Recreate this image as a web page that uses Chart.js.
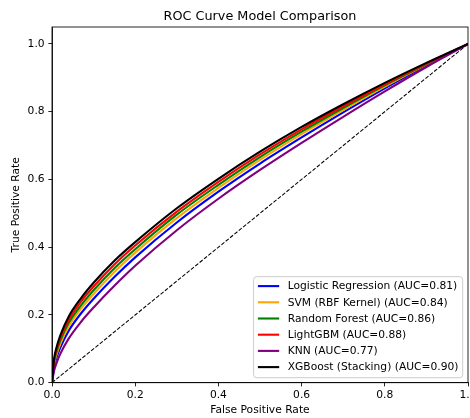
<!DOCTYPE html>
<html>
<head>
<meta charset="utf-8">
<script src="https://cdn.jsdelivr.net/npm/chart.js@4.4.1/dist/chart.umd.min.js"></script>
<style>
  html, body { margin: 0; padding: 0; background: #fff; }
  #wrap { width: 470px; height: 418px; }
</style>
</head>
<body>
<div id="wrap"><canvas id="rocChart" width="470" height="418"></canvas></div>
<script>
// values
var fpr = [0, 0.005, 0.01, 0.02, 0.04, 0.07, 0.1, 0.15, 0.2, 0.3, 0.4, 0.5, 0.6, 0.7, 0.8, 0.9, 1.0];

var tprLogReg   = [0, 0.047, 0.071, 0.104, 0.153, 0.205, 0.248, 0.312, 0.370, 0.473, 0.564, 0.647, 0.724, 0.798, 0.869, 0.936, 1.0];
var tprSvm      = [0, 0.054, 0.080, 0.115, 0.166, 0.219, 0.262, 0.327, 0.384, 0.486, 0.575, 0.658, 0.734, 0.805, 0.874, 0.939, 1.0];
var tprForest   = [0, 0.060, 0.087, 0.124, 0.176, 0.229, 0.273, 0.338, 0.394, 0.496, 0.584, 0.666, 0.741, 0.811, 0.878, 0.940, 1.0];
var tprLightgbm = [0, 0.065, 0.093, 0.132, 0.185, 0.240, 0.284, 0.349, 0.405, 0.505, 0.593, 0.674, 0.748, 0.816, 0.881, 0.942, 1.0];
var tprKnn      = [0, 0.035, 0.055, 0.085, 0.130, 0.180, 0.222, 0.286, 0.345, 0.450, 0.543, 0.628, 0.708, 0.785, 0.860, 0.932, 1.0];
var tprXgboost  = [0, 0.070, 0.100, 0.140, 0.195, 0.250, 0.295, 0.360, 0.415, 0.515, 0.602, 0.682, 0.755, 0.822, 0.885, 0.944, 1.0];

var modelNames  = ["Logistic Regression (AUC=0.81)", "SVM (RBF Kernel) (AUC=0.84)", "Random Forest (AUC=0.86)",
                   "LightGBM (AUC=0.88)", "KNN (AUC=0.77)", "XGBoost (Stacking) (AUC=0.90)"];
var modelColors = ["#0000ff", "#ffa500", "#008000", "#ff0000", "#800080", "#000000"];
var modelTpr    = [tprLogReg, tprSvm, tprForest, tprLightgbm, tprKnn, tprXgboost];

var chanceX = [0, 1];
var chanceY = [0, 1];

var xTicks = [0, 0.2, 0.4, 0.6, 0.8, 1.0];
var yTicks = [0, 0.2, 0.4, 0.6, 0.8, 1.0];

var FONT = "DejaVu Sans";

function toPoints(xs, ys) {
  return xs.map(function (x, i) { return { x: x, y: ys[i] }; });
}

var datasets = modelTpr.map(function (tpr, i) {
  return {
    label: modelNames[i],
    data: toPoints(fpr, tpr),
    borderColor: modelColors[i],
    backgroundColor: modelColors[i],
    borderWidth: 2.1,
    pointRadius: 0,
    cubicInterpolationMode: "monotone",
    order: modelTpr.length - i
  };
});

datasets.push({
  label: "chance",
  data: toPoints(chanceX, chanceY),
  borderColor: "#000",
  borderWidth: 1.05,
  borderDash: [3.9, 1.7],
  pointRadius: 0,
  order: 10
});

// title, top/right spines and the inside legend, matplotlib style
var decorations = {
  id: "decorations",
  afterDraw: function (chart) {
    var ctx = chart.ctx;
    var a = chart.chartArea;
    ctx.save();

    ctx.strokeStyle = "#000";
    ctx.lineWidth = 0.85;
    ctx.strokeRect(a.left, a.top, a.right - a.left, a.bottom - a.top);

    ctx.fillStyle = "#000";
    ctx.font = "12.8px '" + FONT + "'";
    ctx.textAlign = "center";
    ctx.textBaseline = "middle";
    ctx.fillText("ROC Curve Model Comparison", (a.left + a.right) / 2, 17);

    // legend box
    ctx.font = "10.7px '" + FONT + "'";
    var maxW = 0;
    modelNames.forEach(function (n) { maxW = Math.max(maxW, ctx.measureText(n).width); });
    var pad = 4.3, handle = 21.3, gap = 8.5, rowH = 16.2;
    var boxR = a.right - 5.3, boxB = a.bottom - 5;
    var boxW = pad + handle + gap + maxW + pad;
    var boxH = rowH * modelNames.length + 3.8;
    var boxL = boxR - boxW, boxT = boxB - boxH;

    ctx.beginPath();
    ctx.roundRect(boxL, boxT, boxW, boxH, 3);
    ctx.fillStyle = "rgba(255,255,255,0.8)";
    ctx.fill();
    ctx.strokeStyle = "#cccccc";
    ctx.lineWidth = 1;
    ctx.stroke();

    ctx.textAlign = "left";
    modelNames.forEach(function (n, i) {
      var y = boxT + 9.4 + i * rowH;
      ctx.beginPath();
      ctx.moveTo(boxL + pad, y);
      ctx.lineTo(boxL + pad + handle, y);
      ctx.strokeStyle = modelColors[i];
      ctx.lineWidth = 2.1;
      ctx.stroke();
      ctx.fillStyle = "#000";
      ctx.fillText(n, boxL + pad + handle + gap, y + 0.5);
    });
    ctx.restore();
  }
};

var tickFont = { family: FONT, size: 10.7 };

var config = {
  type: "line",
  data: { datasets: datasets },
  options: {
    responsive: false,
    animation: false,
    layout: { padding: { top: 27, right: 2, left: 0, bottom: 0 } },
    plugins: {
      legend: { display: false },
      title: { display: false },
      tooltip: { enabled: false }
    },
    scales: {
      x: {
        type: "linear",
        min: 0,
        max: 1,
        afterBuildTicks: function (s) { s.ticks = xTicks.map(function (v) { return { value: v }; }); },
        afterFit: function (s) { s.height = 35.3; s.paddingLeft = 0; s.paddingRight = 0; },
        ticks: {
          font: tickFont, color: "#000", padding: 2.5, maxRotation: 0,
          callback: function (v) { return v.toFixed(1); }
        },
        grid: { display: true, drawOnChartArea: false, drawTicks: true, tickLength: 3.7, color: "#000", tickWidth: 0.85 },
        border: { display: true, color: "#000", width: 0.85 },
        title: { display: true, text: "False Positive Rate", font: tickFont, color: "#000", padding: { top: 1, bottom: 1 } }
      },
      y: {
        type: "linear",
        min: 0,
        max: 1.05,
        afterBuildTicks: function (s) { s.ticks = yTicks.map(function (v) { return { value: v }; }); },
        afterFit: function (s) { s.width = 52; s.paddingTop = 0; s.paddingBottom = 0; },
        ticks: {
          font: tickFont, color: "#000", padding: 3.7,
          callback: function (v) { return v.toFixed(1); }
        },
        grid: { display: true, drawOnChartArea: false, drawTicks: true, tickLength: 3.7, color: "#000", tickWidth: 0.85 },
        border: { display: true, color: "#000", width: 0.85 },
        title: { display: true, text: "True Positive Rate", font: tickFont, color: "#000", padding: { top: 9.6, bottom: 9.6 } }
      }
    }
  },
  plugins: [decorations]
};

var rocCanvas = document.getElementById("rocChart").getContext("2d");
var rocChart = new Chart(rocCanvas, config);
</script>
</body>
</html>
